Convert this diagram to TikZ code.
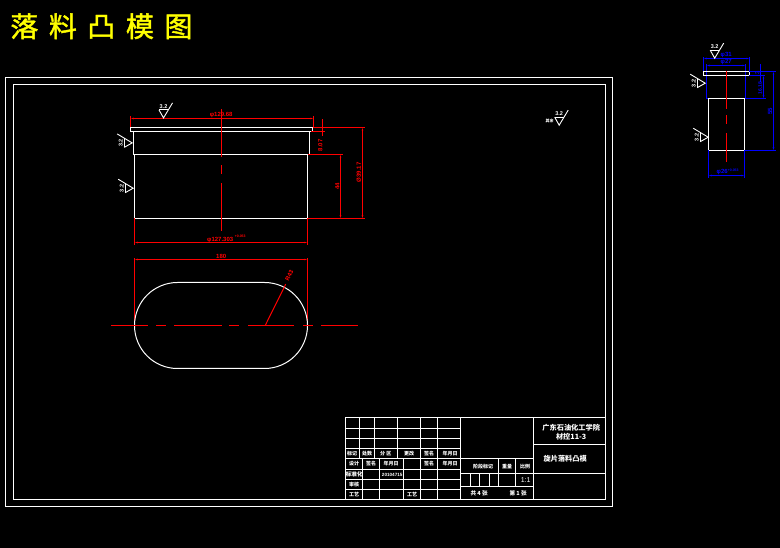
\documentclass[tikz,border=0pt]{standalone}
\usepackage{fontspec}
\setmainfont{Liberation Sans}
\newfontfamily\cjk{Noto Sans CJK SC}
\newfontfamily\cjktitle[FakeBold=1.5]{Noto Sans CJK SC}
\usetikzlibrary{arrows.meta}
\definecolor{cadred}{RGB}{255,0,0}
\definecolor{cadblue}{RGB}{0,0,255}
\definecolor{cadyellow}{RGB}{255,255,0}
\tikzset{
  x=1pt,y=-1pt,
  wl/.style={draw=white,line width=1pt},
  fl/.style={draw=white,line width=1pt},
  rl/.style={draw=cadred,line width=1pt},
  bll/.style={draw=cadblue,line width=1pt},
  rdim/.style={rl,{Latex[length=3pt,width=1.8pt]}-{Latex[length=3pt,width=1.8pt]}},
  bdim/.style={bll,{Latex[length=3pt,width=1.8pt]}-{Latex[length=3pt,width=1.8pt]}},
  rtx/.style={text=cadred,font=\fontsize{6}{6}\selectfont\bfseries,inner sep=0pt},
  btx/.style={text=cadblue,font=\fontsize{6}{6}\selectfont\bfseries,inner sep=0pt},
  tb/.style={text=white,font=\fontsize{5}{6}\cjk\bfseries,inner sep=0pt},
  pics/rough/.style={code={
    \draw[white,line width=0.9pt] (-4.5,-8) -- (0,0) -- (9,-15);
    \draw[white,line width=0.9pt] (-4.5,-8) -- (4.5,-8);
    \node[text=white,font=\fontsize{5.5}{6}\selectfont\bfseries,inner sep=0pt,transform shape] (#1) at (0,-11.5) {3.2};
  }}
}
\begin{document}
\begin{tikzpicture}
\useasboundingbox[fill=black] (0,0) rectangle (780,548);
\begin{scope}[shift={(0.2,0.2)}]
% title
\node[anchor=west,text=cadyellow,font=\fontsize{28}{30}\cjktitle,inner sep=0pt] (title) at (10,26)
  {落\hspace{10.5pt}料\hspace{10.5pt}凸\hspace{10.5pt}模\hspace{10.5pt}图};
% frames
\draw[wl] (5.3,77.3) rectangle (612.3,506.3);
\draw[wl] (13.3,84.3) rectangle (605.3,499.3);
% --- front view
\draw[wl] (130.3,127.3) rectangle (312.3,131.3);
\draw[wl] (133.3,131.3) -- (133.3,154.3) -- (309.3,154.3) -- (309.3,131.3);
\draw[wl] (134.3,154.3) rectangle (307.3,218.3);
\draw[rl] (221.3,109) -- (221.3,156.7) (221.3,165) -- (221.3,174.3) (221.3,183) -- (221.3,230.7);
% dims front
\draw[rl] (130.3,116) -- (130.3,127.3) (313.3,116) -- (313.3,127.3);
\draw[rdim] (130.3,118.3) -- (313.3,118.3);
\node[rtx] (d1) at (221,115) {φ129.68};
\draw[rl] (134.3,218.3) -- (134.3,245) (307.3,218.3) -- (307.3,245);
\draw[rdim] (134.3,242.3) -- (307.3,242.3);
\node[rtx] (d2) at (220,239.5) {φ127.303};
\node[rtx,font=\fontsize{3.5}{4}\selectfont\bfseries] (d2s) at (240,236.5) {+0.053};
\draw[rl] (312.3,127.3) -- (365,127.3) (307.3,218.3) -- (365,218.3) (307.3,154.3) -- (343,154.3) (311,131.3) -- (325,131.3);
\draw[rdim] (362.3,127.3) -- (362.3,218.3);
\draw[rdim] (340.3,154.3) -- (340.3,218.3);
\draw[rl] (322.3,119) -- (322.3,135.7);
\node[rtx,rotate=90] (d3) at (358.5,172) {Ø39.17};
\node[rtx,rotate=90] (d4) at (337,186) {44};
\node[rtx,rotate=90] (d5) at (320,145) {8.07};
\pic[rotate=0] at (163.3,117.7) {rough=r1};
\pic[rotate=90] at (132,142.7) {rough=r2};
\pic[rotate=90] at (133,188) {rough=r3};
\pic[rotate=0] at (559,125) {rough=r4};
\node[text=white,font=\fontsize{4}{5}\cjk\bfseries,inner sep=0pt] (qy) at (549.5,121) {其余};
% --- plan view
\draw[rl] (134.3,258) -- (134.3,325) (307.3,258) -- (307.3,325);
\draw[rdim] (134.3,259.3) -- (307.3,259.3);
\node[rtx] (p1) at (221,256) {180};
\draw[wl] (177.3,282.3) -- (264.3,282.3) arc[start angle=-90,end angle=90,radius=43] -- (177.3,368.3) arc[start angle=90,end angle=270,radius=43];
\foreach \a/\b in {111/148,156/166,174/221.3,229/239,248/294,303/313,321/358}{
  \draw[rl] (\a,325.3) -- (\b,325.3);
}
\draw[rl] (265,325.3) -- (285.5,284);
\node[rtx,rotate=63] (p2) at (289,275) {R43};
% --- side view
\draw[bll] (706.3,75.3) -- (706.3,98.3) -- (745.3,98.3) -- (745.3,64);
\draw[bll] (706.3,64) -- (706.3,75.3) (703.3,57) -- (703.3,71.3) (749.3,57) -- (749.3,71.3);
\draw[bdim] (703.3,58.3) -- (749.3,58.3);
\draw[bdim] (706.3,65.3) -- (745.3,65.3);
\node[btx] (s1) at (726,55) {φ31};
\node[btx] (s2) at (726,62) {φ27};
\draw[wl] (703.3,71.3) rectangle (749.3,75.3);
\draw[wl] (708.3,98.3) rectangle (744.3,150.3);
\draw[rl,line width=1.1pt] (726.3,70.7) -- (726.3,109) (726.3,115) -- (726.3,124.3) (726.3,133) -- (726.3,162.3);
\draw[bll] (749,71.3) -- (776,71.3) (749,75.3) -- (765,75.3) (745.3,98.3) -- (766,98.3) (744.3,150.3) -- (776,150.3);
\draw[bll] (760.3,64) -- (760.3,82);
\draw[bdim] (763.3,75.3) -- (763.3,98.3);
\draw[bdim] (773.3,71.3) -- (773.3,150.3);
\node[btx,rotate=90] (s3) at (770,111) {55};
\node[btx,rotate=90,font=\fontsize{5}{5}\selectfont\bfseries] (s4) at (760,88) {16.18};
\node[btx,rotate=90] (s5) at (757,73) {3};
\draw[bll] (708.3,150.3) -- (708.3,178) (744.3,150.3) -- (744.3,178);
\draw[bdim] (708.3,175.3) -- (744.3,175.3);
\node[btx] (s6) at (722,172) {φ26};
\node[btx,font=\fontsize{3.5}{4}\selectfont\bfseries] (s7) at (733,170) {+0.053};
\pic[rotate=0] at (714.5,58) {rough=r5};
\pic[rotate=90] at (705,83) {rough=r6};
\pic[rotate=90] at (708,137) {rough=r7};
% --- title block
\draw[fl] (345.3,417.3) rectangle (605.3,499.3);
\foreach \y in {428.3,438.3,448.3,458.3,469.3,479.3,489.3}{\draw[fl] (345.3,\y) -- (460.3,\y);}
\foreach \x in {359.3,374.3,397.3,420.3,437.3}{\draw[fl] (\x,417.3) -- (\x,458.3);}
\foreach \x in {362.3,379.3,403.3,420.3,437.3}{\draw[fl] (\x,458.3) -- (\x,499.3);}
\draw[fl] (460.3,417.3) -- (460.3,499.3) (533.3,417.3) -- (533.3,499.3);
\draw[fl] (533.3,444.3) -- (605.3,444.3) (460.3,458.3) -- (533.3,458.3) (460.3,473.3) -- (605.3,473.3) (460.3,486.3) -- (533.3,486.3);
\draw[fl] (498.3,458.3) -- (498.3,486.3) (515.3,458.3) -- (515.3,486.3);
\foreach \x in {470.3,479.3,489.3}{\draw[fl] (\x,473.3) -- (\x,486.3);}
% title block texts
\node[tb] (a1) at (352,453.3) {标记};
\node[tb] (a2) at (367,453.3) {处数};
\node[tb] (a3) at (385.5,453.3) {分 区};
\node[tb] (a4) at (409,453.3) {更改};
\node[tb] (a5) at (429,453.3) {签名};
\node[tb] (a6) at (450,453.3) {年月日};
\node[tb] (b1) at (353.8,463.8) {设计};
\node[tb] (b2) at (371,463.8) {签名};
\node[tb] (b3) at (391,463.8) {年月日};
\node[tb] (b4) at (429,463.8) {签名};
\node[tb] (b5) at (450,463.8) {年月日};
\node[tb,font=\fontsize{5.6}{6}\cjk\bfseries] (c1) at (354,474.3) {标准化};
\node[tb,font=\fontsize{4.6}{5}\selectfont\bfseries] (c2) at (392,474.3) {20104715};
\node[tb] (d1b) at (353.8,484.3) {审核};
\node[tb] (e1) at (353.8,494.3) {工艺};
\node[tb] (e2) at (411.8,494.3) {工艺};
\node[tb] (f1) at (483,466) {阶段标记};
\node[tb] (f2) at (507,466) {重量};
\node[tb] (f3) at (525,466) {比例};
\node[tb,font=\fontsize{7}{7}\selectfont] (f4) at (525.5,480) {1:1};
\node[tb,font=\fontsize{5.6}{6}\cjk\bfseries] (f5) at (479,492.8) {共 4 张};
\node[tb,font=\fontsize{5.6}{6}\cjk\bfseries] (f6) at (518,492.8) {第 1 张};
\node[tb,font=\fontsize{7.2}{8}\cjk\bfseries] (g1) at (571,427.7) {广东石油化工学院};
\node[tb,font=\fontsize{7.2}{8}\cjk\bfseries] (g2) at (571,437) {材控11-3};
\node[tb,font=\fontsize{7.2}{8}\cjk\bfseries] (g3) at (565,459) {旋片落料凸模};
\end{scope}
\end{tikzpicture}
\end{document}
